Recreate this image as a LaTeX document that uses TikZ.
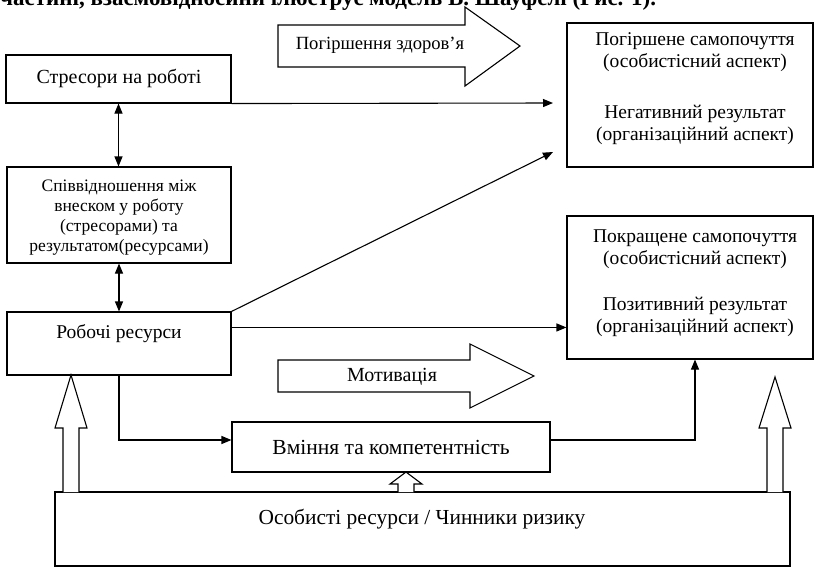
\documentclass[tikz,border=0pt]{standalone}
\usepackage{fontspec}
\setmainfont{Liberation Serif}
\usetikzlibrary{arrows.meta,calc}
\begin{document}
\begin{tikzpicture}[x=1pt,y=-1pt,
  box/.style={draw, line width=1.1pt, inner sep=0pt},
  txt/.style={font=\fontsize{19.5}{22}\selectfont, align=center, inner sep=0pt},
  conn/.style={line width=1.1pt, -{Triangle[length=10pt,width=8pt]}},
  dconn/.style={line width=1.1pt, {Triangle[length=10pt,width=8pt]}-{Triangle[length=10pt,width=8pt]}},
  hollow/.style={draw, line width=1.1pt, fill=white, line join=miter}]
\useasboundingbox (0,0) rectangle (817,568);
\clip (0,0) rectangle (817,568);
\fill[white] (0,0) rectangle (817,568);

% clipped running text line at the top
\node[anchor=base west, font=\fontsize{23}{26}\selectfont\bfseries, inner sep=0pt] (toptext) at (0,5) {частині, взаємовідносини ілюструє модель В. Шауфелі (Рис. 1).};

% left column
\node[box, minimum width=225pt, minimum height=48pt] (str) at (118.5,79) {};
\node[txt, font=\fontsize{20}{22}\selectfont] (strt) at (119,78) {Стресори на роботі};
\node[box, minimum width=224pt, minimum height=96pt] (rat) at (119,215) {};
\node[txt, font=\fontsize{17.5}{20}\selectfont] (ratt) at (119,218) {Співвідношення між\\внеском у роботу\\(стресорами) та\\результатом(ресурсами)};
\node[box, minimum width=224pt, minimum height=63pt] (rob) at (119,343.5) {};
\node[txt] (robt) at (119,334) {Робочі ресурси};

% right column
\node[box, minimum width=246pt, minimum height=144pt] (neg) at (690,95) {};
\node[txt] (negt) at (695,89) {Погіршене самопочуття\\(особистісний аспект)\\[29pt]Негативний результат\\(організаційний аспект)};
\node[box, minimum width=246pt, minimum height=143pt] (pos) at (690,287.5) {};
\node[txt] (post) at (695,283) {Покращене самопочуття\\(особистісний аспект)\\[24pt]Позитивний результат\\(організаційний аспект)};

% middle
\node[box, minimum width=318pt, minimum height=50pt, txt, font=\fontsize{21.5}{24}\selectfont] (vmin) at (391,447) {Вміння та компетентність};
\node[box, minimum width=735pt, minimum height=74pt] (osob) at (422.5,529) {};
\node[txt, font=\fontsize{21.4}{24}\selectfont] (osobt) at (422,519) {Особисті ресурси / Чинники ризику};

% big hollow arrows
\draw[hollow] (278,25) -- (465,25) -- (465,7) -- (520,46) -- (465,86) -- (465,67) -- (278,67) -- cycle;
\node[txt, font=\fontsize{18.6}{22}\selectfont] (health) at (380,45) {Погіршення здоров’я};
\draw[hollow] (278,360) -- (470,360) -- (470,344) -- (534,376) -- (470,408) -- (470,392) -- (278,392) -- cycle;
\node[txt, font=\fontsize{20}{22}\selectfont] (motiv) at (392,377) {Мотивація};

% upward hollow arrows from personal resources
\draw[hollow] (63,492) -- (63,428) -- (55,428) -- (71,375) -- (87,428) -- (79,428) -- (79,492);
\draw[hollow] (767,492) -- (767,428) -- (759,428) -- (775,377) -- (791,428) -- (783,428) -- (783,492);
\draw[hollow] (398,492) -- (398,484) -- (390,484) -- (406,472) -- (422,484) -- (414,484) -- (414,492);

% connectors
\draw[dconn] (str.south) -- (str.south |- rat.north);
\draw[dconn] (rat.south) -- (rat.south |- rob.north);
\coordinate (c1) at (553,103);
\draw[conn] (str.south east) -- (c1);
\coordinate (c2) at (553,152);
\draw[conn] (rob.north east) -- (c2);
\coordinate (r1) at ($(rob.north east)+(0,16)$);
\draw[conn] (r1) -- (r1 -| pos.west);
\draw[conn] (rob.south) |- ($(vmin.west)+(0,-7)$);
\draw[conn] ($(vmin.east)+(0,-7)$) -| ($(pos.south)+(5,0)$);
\end{tikzpicture}
\end{document}
